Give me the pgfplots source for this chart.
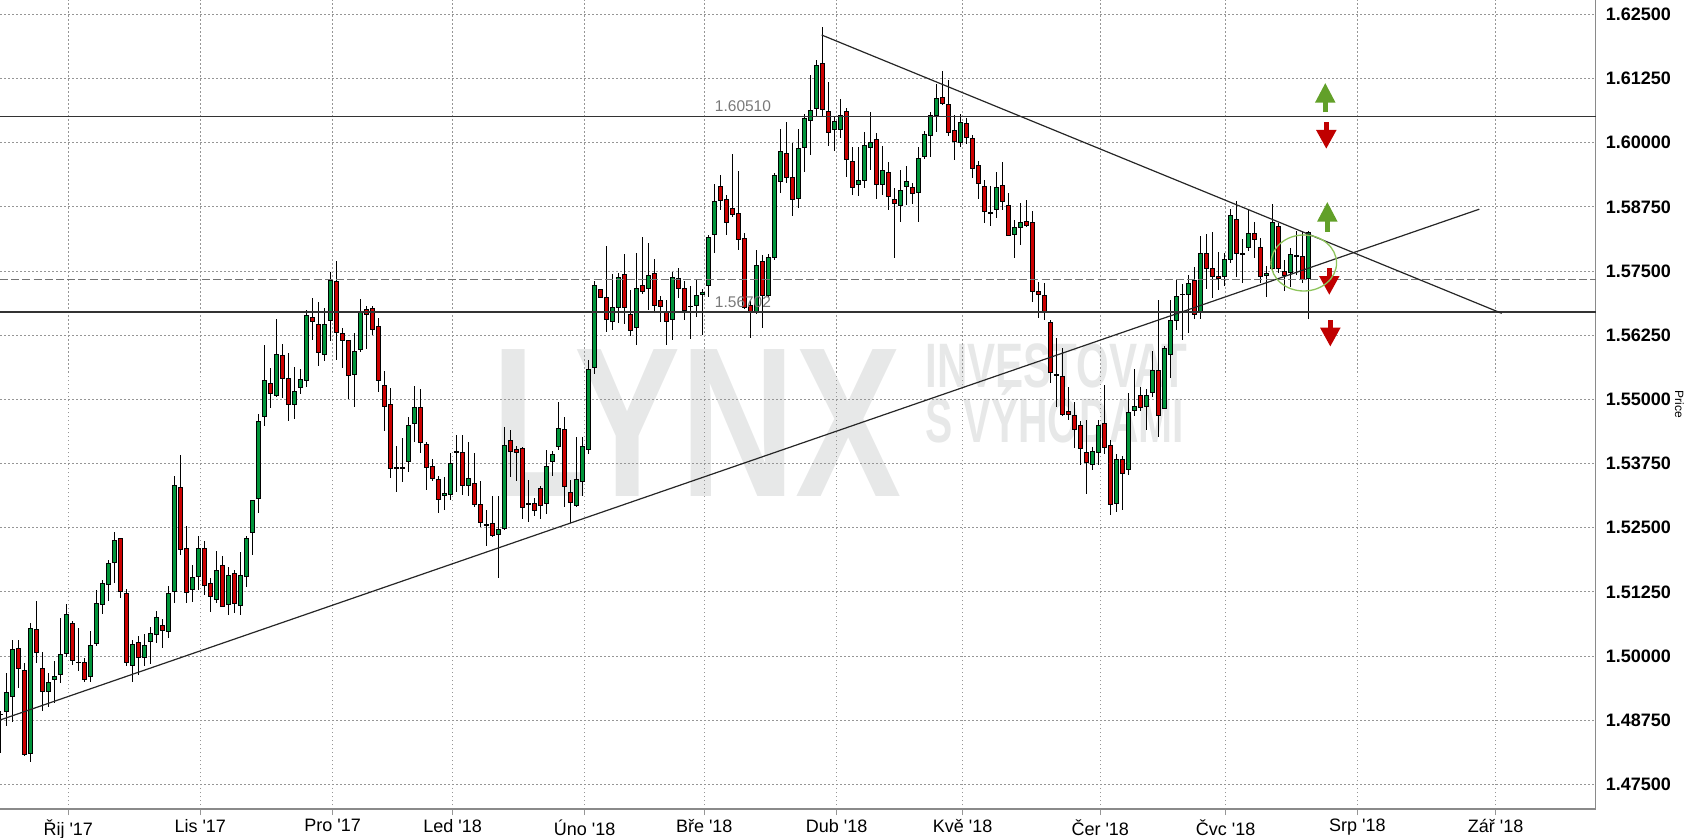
\documentclass[border=0pt]{standalone}
\usepackage{fontspec}
\setmainfont{Liberation Sans}[Ligatures=TeXOff]
\newfontfamily\wmA{Liberation Sans}[FakeStretch=0.745]
\newfontfamily\wmB{Liberation Sans}[FakeStretch=0.67]
\newfontfamily\wmC{Liberation Sans}[FakeStretch=0.65]
\usepackage{graphicx}
\usepackage{pgfplots}
\usepackage{pgfplotstable}
\pgfplotsset{compat=1.18}
\usetikzlibrary{arrows.meta}
\definecolor{cgreen}{RGB}{0,148,58}
\definecolor{cred}{RGB}{204,0,0}
\definecolor{agreen}{RGB}{98,160,41}
\definecolor{ared}{RGB}{192,0,0}
\definecolor{circgreen}{RGB}{140,195,90}
\definecolor{wm}{RGB}{231,232,232}
\definecolor{gridgray}{RGB}{150,150,150}
\definecolor{axgray}{RGB}{138,138,138}
\definecolor{lblgray}{RGB}{120,120,120}
\pgfplotstableread{
k o h l c
0 1.4887 1.4892 1.4811 1.4886
1 1.4892 1.4967 1.4863 1.4928
2 1.4921 1.5032 1.4871 1.5013
3 1.5015 1.5032 1.4937 1.4976
4 1.4971 1.4987 1.4806 1.4808
5 1.4811 1.5065 1.4793 1.5053
6 1.5051 1.5107 1.4986 1.5007
7 1.4976 1.5008 1.4893 1.4930
8 1.4930 1.4967 1.4900 1.4949
9 1.4955 1.4991 1.4908 1.4961
10 1.4964 1.5075 1.4948 1.5002
11 1.5004 1.5102 1.4999 1.5080
12 1.5064 1.5069 1.4983 1.4991
13 1.4988 1.5055 1.4970 1.4987
14 1.4987 1.4996 1.4950 1.4955
15 1.4961 1.5049 1.4950 1.5021
16 1.5025 1.5129 1.5019 1.5103
17 1.5101 1.5148 1.5082 1.5142
18 1.5140 1.5187 1.5108 1.5180
19 1.5183 1.5241 1.5143 1.5226
20 1.5228 1.5229 1.5113 1.5126
21 1.5122 1.5130 1.4980 1.4988
22 1.4982 1.5032 1.4949 1.5023
23 1.5027 1.5039 1.4963 1.4998
24 1.4998 1.5043 1.4980 1.5021
25 1.5028 1.5056 1.4984 1.5043
26 1.5041 1.5088 1.5025 1.5076
27 1.5060 1.5072 1.5015 1.5050
28 1.5048 1.5137 1.5036 1.5122
29 1.5126 1.5350 1.5104 1.5333
30 1.5329 1.5392 1.5196 1.5208
31 1.5210 1.5253 1.5104 1.5124
32 1.5130 1.5178 1.5106 1.5152
33 1.5155 1.5234 1.5128 1.5210
34 1.5210 1.5224 1.5119 1.5137
35 1.5142 1.5152 1.5085 1.5115
36 1.5111 1.5205 1.5104 1.5167
37 1.5177 1.5195 1.5095 1.5097
38 1.5100 1.5174 1.5079 1.5157
39 1.5161 1.5168 1.5083 1.5103
40 1.5099 1.5202 1.5080 1.5157
41 1.5155 1.5234 1.5135 1.5228
42 1.5241 1.5304 1.5196 1.5302
43 1.5307 1.5472 1.5278 1.5457
44 1.5467 1.5606 1.5449 1.5537
45 1.5531 1.5562 1.5483 1.5512
46 1.5508 1.5657 1.5505 1.5588
47 1.5586 1.5608 1.5502 1.5541
48 1.5541 1.5591 1.5457 1.5490
49 1.5489 1.5563 1.5462 1.5516
50 1.5524 1.5559 1.5510 1.5539
51 1.5537 1.5675 1.5525 1.5664
52 1.5660 1.5697 1.5616 1.5652
53 1.5646 1.5689 1.5565 1.5592
54 1.5588 1.5678 1.5574 1.5646
55 1.5653 1.5749 1.5613 1.5732
56 1.5730 1.5770 1.5576 1.5631
57 1.5629 1.5638 1.5562 1.5615
58 1.5614 1.5616 1.5500 1.5547
59 1.5549 1.5629 1.5486 1.5594
60 1.5598 1.5695 1.5593 1.5672
61 1.5675 1.5681 1.5599 1.5666
62 1.5677 1.5682 1.5625 1.5636
63 1.5642 1.5658 1.5515 1.5537
64 1.5526 1.5555 1.5439 1.5487
65 1.5490 1.5522 1.5346 1.5366
66 1.5366 1.5409 1.5320 1.5367
67 1.5366 1.5425 1.5339 1.5367
68 1.5379 1.5466 1.5359 1.5450
69 1.5453 1.5526 1.5417 1.5485
70 1.5485 1.5521 1.5395 1.5416
71 1.5412 1.5416 1.5324 1.5367
72 1.5370 1.5384 1.5341 1.5346
73 1.5343 1.5350 1.5278 1.5304
74 1.5313 1.5348 1.5285 1.5317
75 1.5315 1.5395 1.5304 1.5376
76 1.5398 1.5431 1.5320 1.5397
77 1.5397 1.5430 1.5314 1.5333
78 1.5333 1.5416 1.5311 1.5346
79 1.5337 1.5396 1.5291 1.5296
80 1.5296 1.5341 1.5252 1.5260
81 1.5257 1.5285 1.5215 1.5255
82 1.5259 1.5312 1.5232 1.5235
83 1.5237 1.5312 1.5152 1.5246
84 1.5248 1.5446 1.5246 1.5411
85 1.5420 1.5440 1.5348 1.5399
86 1.5402 1.5409 1.5340 1.5397
87 1.5405 1.5408 1.5267 1.5289
88 1.5296 1.5343 1.5262 1.5297
89 1.5298 1.5307 1.5272 1.5284
90 1.5326 1.5332 1.5267 1.5293
91 1.5298 1.5402 1.5277 1.5370
92 1.5379 1.5400 1.5350 1.5393
93 1.5408 1.5494 1.5402 1.5444
94 1.5442 1.5466 1.5291 1.5331
95 1.5319 1.5343 1.5259 1.5300
96 1.5294 1.5426 1.5290 1.5344
97 1.5339 1.5426 1.5312 1.5408
98 1.5403 1.5577 1.5394 1.5559
99 1.5563 1.5731 1.5550 1.5721
100 1.5713 1.5714 1.5698 1.5699
101 1.5699 1.5798 1.5632 1.5655
102 1.5651 1.5744 1.5635 1.5678
103 1.5678 1.5746 1.5648 1.5738
104 1.5744 1.5783 1.5647 1.5679
105 1.5666 1.5713 1.5624 1.5635
106 1.5639 1.5785 1.5605 1.5715
107 1.5722 1.5817 1.5705 1.5711
108 1.5715 1.5805 1.5674 1.5742
109 1.5746 1.5773 1.5673 1.5683
110 1.5693 1.5702 1.5650 1.5681
111 1.5672 1.5694 1.5605 1.5651
112 1.5656 1.5748 1.5615 1.5738
113 1.5735 1.5755 1.5697 1.5716
114 1.5715 1.5731 1.5655 1.5674
115 1.5681 1.5720 1.5617 1.5680
116 1.5683 1.5734 1.5660 1.5703
117 1.5705 1.5715 1.5625 1.5709
118 1.5722 1.5820 1.5699 1.5816
119 1.5822 1.5920 1.5786 1.5886
120 1.5914 1.5937 1.5869 1.5888
121 1.5890 1.5898 1.5821 1.5845
122 1.5871 1.5978 1.5855 1.5861
123 1.5862 1.5944 1.5791 1.5811
124 1.5814 1.5824 1.5677 1.5678
125 1.5683 1.5692 1.5620 1.5671
126 1.5672 1.5790 1.5666 1.5761
127 1.5769 1.5782 1.5638 1.5702
128 1.5703 1.5783 1.5700 1.5777
129 1.5777 1.5940 1.5772 1.5936
130 1.5925 1.6026 1.5901 1.5983
131 1.5979 1.6040 1.5921 1.5933
132 1.5933 1.6000 1.5858 1.5890
133 1.5892 1.6026 1.5872 1.5988
134 1.5991 1.6056 1.5942 1.6048
135 1.6044 1.6132 1.5975 1.6062
136 1.6067 1.6161 1.6050 1.6151
137 1.6155 1.6225 1.6051 1.6065
138 1.6061 1.6118 1.5994 1.6020
139 1.6026 1.6051 1.5983 1.6041
140 1.6026 1.6085 1.6009 1.6053
141 1.6061 1.6067 1.5934 1.5968
142 1.5964 1.5992 1.5898 1.5913
143 1.5919 1.5992 1.5897 1.5927
144 1.5927 1.6020 1.5911 1.5994
145 1.5991 1.6060 1.5947 1.6001
146 1.6007 1.6018 1.5890 1.5919
147 1.5919 1.5994 1.5898 1.5946
148 1.5942 1.5962 1.5868 1.5896
149 1.5890 1.5911 1.5775 1.5882
150 1.5877 1.5947 1.5846 1.5907
151 1.5915 1.5955 1.5878 1.5925
152 1.5913 1.5921 1.5880 1.5900
153 1.5903 1.5992 1.5846 1.5970
154 1.5974 1.6022 1.5968 1.6016
155 1.6013 1.6060 1.5973 1.6053
156 1.6053 1.6114 1.6020 1.6086
157 1.6088 1.6140 1.6074 1.6077
158 1.6075 1.6122 1.6012 1.6020
159 1.6024 1.6054 1.5966 1.6003
160 1.6001 1.6056 1.5992 1.6040
161 1.6038 1.6048 1.5997 1.6011
162 1.6009 1.6015 1.5932 1.5950
163 1.5956 1.5965 1.5890 1.5920
164 1.5915 1.5927 1.5843 1.5866
165 1.5862 1.5916 1.5837 1.5863
166 1.5870 1.5942 1.5854 1.5913
167 1.5917 1.5962 1.5869 1.5885
168 1.5878 1.5902 1.5818 1.5820
169 1.5822 1.5850 1.5775 1.5835
170 1.5835 1.5882 1.5801 1.5845
171 1.5847 1.5889 1.5835 1.5839
172 1.5845 1.5866 1.5689 1.5710
173 1.5710 1.5729 1.5658 1.5705
174 1.5703 1.5726 1.5655 1.5671
175 1.5650 1.5655 1.5531 1.5553
176 1.5548 1.5619 1.5486 1.5547
177 1.5545 1.5600 1.5467 1.5471
178 1.5477 1.5525 1.5459 1.5471
179 1.5468 1.5494 1.5405 1.5441
180 1.5450 1.5457 1.5372 1.5405
181 1.5397 1.5460 1.5315 1.5376
182 1.5374 1.5408 1.5363 1.5398
183 1.5397 1.5460 1.5372 1.5450
184 1.5452 1.5528 1.5394 1.5407
185 1.5411 1.5421 1.5275 1.5296
186 1.5298 1.5394 1.5280 1.5383
187 1.5382 1.5390 1.5284 1.5356
188 1.5364 1.5512 1.5353 1.5475
189 1.5479 1.5559 1.5467 1.5487
190 1.5508 1.5525 1.5478 1.5484
191 1.5487 1.5520 1.5441 1.5508
192 1.5514 1.5594 1.5505 1.5557
193 1.5557 1.5694 1.5426 1.5469
194 1.5483 1.5604 1.5481 1.5600
195 1.5588 1.5694 1.5542 1.5653
196 1.5653 1.5733 1.5635 1.5701
197 1.5704 1.5725 1.5616 1.5705
198 1.5705 1.5742 1.5630 1.5726
199 1.5731 1.5757 1.5656 1.5666
200 1.5671 1.5818 1.5656 1.5785
201 1.5785 1.5822 1.5714 1.5755
202 1.5755 1.5825 1.5697 1.5739
203 1.5740 1.5787 1.5713 1.5736
204 1.5739 1.5786 1.5720 1.5772
205 1.5773 1.5870 1.5765 1.5859
206 1.5851 1.5886 1.5739 1.5785
207 1.5783 1.5812 1.5726 1.5784
208 1.5796 1.5870 1.5788 1.5823
209 1.5823 1.5846 1.5775 1.5811
210 1.5796 1.5814 1.5726 1.5740
211 1.5742 1.5759 1.5699 1.5746
212 1.5755 1.5880 1.5751 1.5844
213 1.5836 1.5843 1.5746 1.5755
214 1.5750 1.5772 1.5712 1.5742
215 1.5748 1.5794 1.5718 1.5782
216 1.5780 1.5828 1.5742 1.5779
217 1.5778 1.5828 1.5727 1.5733
218 1.5736 1.5828 1.5656 1.5825
}\candles
\pgfplotsset{
  base/.style={scale only axis, width=797.75pt, height=404.5pt,
    xmin=-0.05, xmax=265.87, ymin=1.4702, ymax=1.62779,
    at={(0pt,14pt)}, anchor=south west},
}
\begin{document}
\begin{tikzpicture}
\path[use as bounding box] (0pt,0pt) rectangle (845.5pt,418.5pt);
% watermark
\begin{axis}[base, hide axis]
\node[anchor=base west, inner sep=0pt, text=wm, font=\wmA\bfseries\fontsize{106.8pt}{106.8pt}\selectfont] at (axis cs:81.78,1.53117) {LYNX};
\node[anchor=base west, inner sep=0pt, text=wm, font=\wmB\bfseries\fontsize{31.4pt}{31.4pt}\selectfont] at (axis cs:154.12,1.55221) {INVESTOVAT};
\node[anchor=base west, inner sep=0pt, text=wm, font=\wmC\bfseries\fontsize{31.4pt}{31.4pt}\selectfont] at (axis cs:154.12,1.54169) {\smash{S VÝHODAMI}};
\end{axis}
% grid, axes, wicks
\begin{axis}[base,
  axis x line*=bottom, axis y line*=right,
  axis line style={draw=axgray, line width=0.6pt},
  xtick={11.33,33.33,55.4,75.4,97.4,117.33,139.4,160.4,183.33,204.23,226.17,249.23},
  xticklabels={Řij '17,Lis '17,Pro '17,Led '18,Úno '18,Bře '18,Dub '18,Kvě '18,Čer '18,Čvc '18,Srp '18,Zář '18},
  ytick={1.475,1.4875,1.5,1.5125,1.525,1.5375,1.55,1.5625,1.575,1.5875,1.6,1.6125,1.625},
  yticklabels={1.47500,1.48750,1.50000,1.51250,1.52500,1.53750,1.55000,1.56250,1.57500,1.58750,1.60000,1.61250,1.62500},
  grid=major,
  grid style={draw=gridgray, line width=0.5pt, dash pattern=on 0.75pt off 1.25pt},
  tick align=outside, major tick length=3pt,
  xtick style={draw=gridgray, line width=0.5pt},
  ytick style={draw=none},
  xticklabel style={font=\fontsize{9pt}{9pt}\selectfont, text=black, anchor=north, inner sep=0pt, yshift=-2pt},
  yticklabel style={font=\bfseries\fontsize{9pt}{9pt}\selectfont, text=black, anchor=west, inner sep=0pt, xshift=2pt},
]
\addplot[draw=none, mark=none,
  error bars/.cd, y dir=both, y explicit, error mark=none,
  error bar style={draw=black, line width=0.65pt}]
  table[x=k, y=c, y error plus expr=\thisrow{h}-\thisrow{c}, y error minus expr=\thisrow{c}-\thisrow{l}] {\candles};
\end{axis}
% bodies
\begin{axis}[base, hide axis, ybar stacked, bar width=0.7]
\addplot[draw=none, fill=none] table[x=k, y expr={min(\thisrow{o},\thisrow{c})}] {\candles};
\addplot[fill=cgreen, draw=black, line width=0.5pt] table[x=k, y expr={max(\thisrow{c}-\thisrow{o},0)}] {\candles};
\addplot[fill=cred, draw=black, line width=0.5pt] table[x=k, y expr={max(\thisrow{o}-\thisrow{c},0)}] {\candles};
\end{axis}
% lines and annotations
\begin{axis}[base, hide axis, clip=false]
\addplot[draw=black!80, line width=0.6pt] coordinates {(-0.05,1.6051) (265.87,1.6051)};
\addplot[draw=black!80, line width=0.6pt] coordinates {(-0.05,1.56702) (265.87,1.56702)};
\addplot[draw=black!55, line width=0.6pt, dash pattern=on 4pt off 1.6pt] coordinates {(-0.05,1.5733) (265.87,1.5733)};
\addplot[draw=black!85, line width=0.6pt] coordinates {(-0.05,1.48753) (246.5,1.58704)};
\addplot[draw=black!85, line width=0.6pt] coordinates {(136.9,1.62097) (250.23,1.56676)};
\node[anchor=south, inner sep=0pt, text=lblgray, font=\fontsize{7.75pt}{7.75pt}\selectfont] at (axis cs:123.78,1.6051) [yshift=2.3pt] {1.60510};
\node[anchor=south, inner sep=0pt, text=lblgray, font=\fontsize{7.75pt}{7.75pt}\selectfont] at (axis cs:123.78,1.56702) [yshift=2.2pt] {1.56702};
\addplot[only marks, mark=o, mark size=14pt, mark options={draw=circgreen, line width=0.65pt, xscale=1.17}] coordinates {(217.25,1.57656)};
\addplot[agreen, line width=2.65pt, quiver={u=\thisrow{u}, v=\thisrow{v}}, -{Triangle[length=10pt,width=9.5pt]}]
  table {
x y u v
220.83 1.60591 0 0.00577
221.17 1.58265 0 0.00585
};
\addplot[ared, line width=2.65pt, quiver={u=\thisrow{u}, v=\thisrow{v}}, -{Triangle[length=9.5pt,width=9.5pt]}]
  table {
x y u v
221.00 1.60397 0 -0.00520
221.50 1.57552 0 -0.00520
221.67 1.56545 0 -0.00520
};
\node[rotate=-90, inner sep=0pt, font=\fontsize{6pt}{6pt}\selectfont] at ([xshift=42pt]rel axis cs:1,0.5) {Price};
\end{axis}
\end{tikzpicture}
\end{document}
